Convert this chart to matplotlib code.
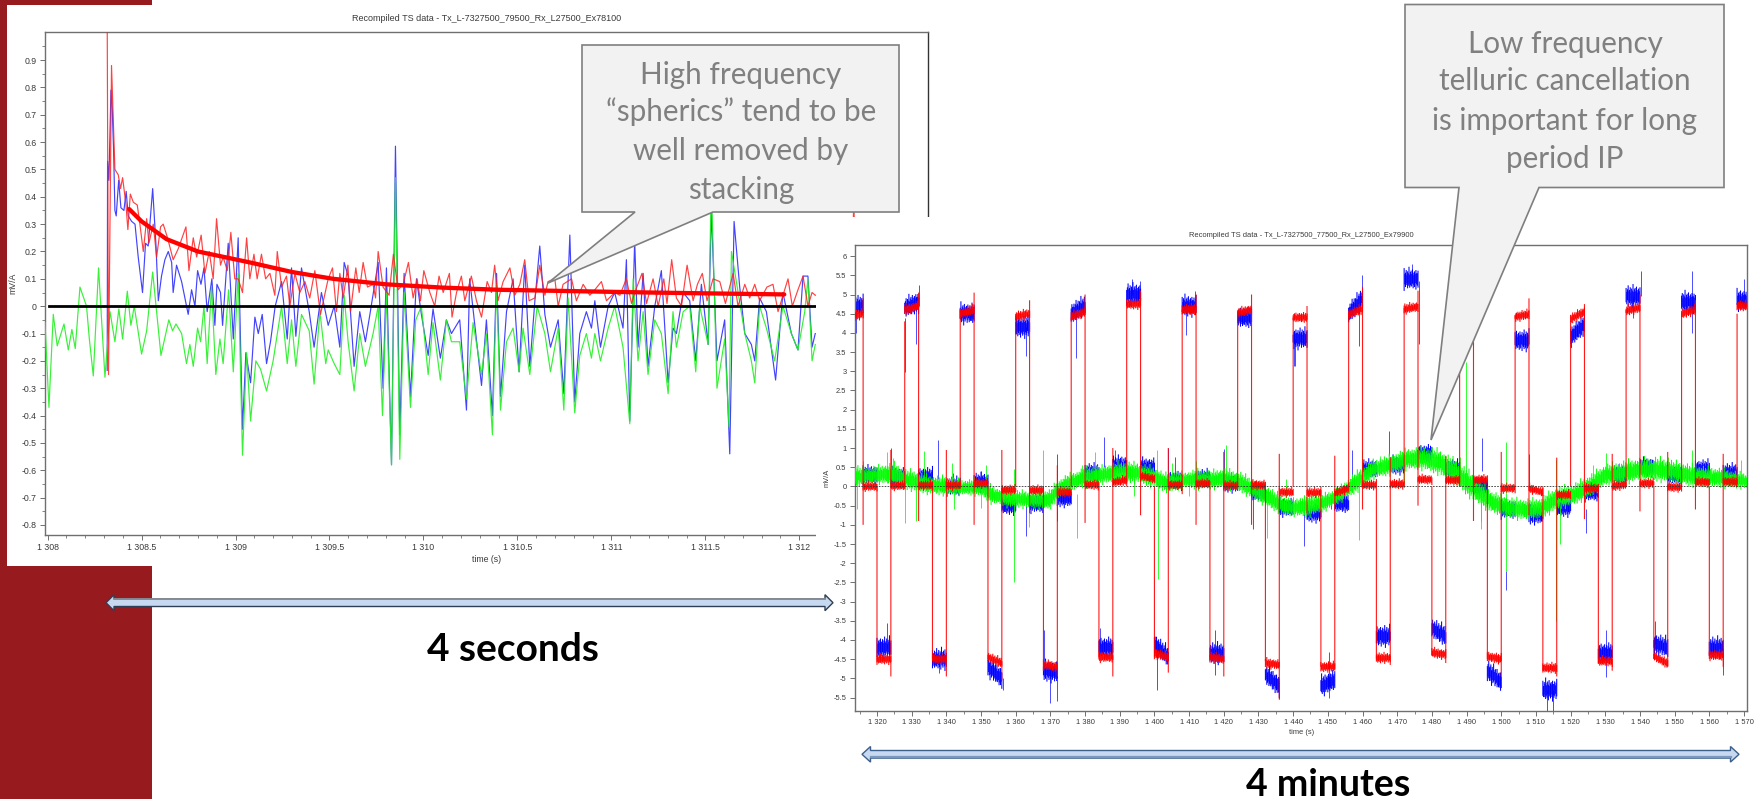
import matplotlib
matplotlib.use("Agg")
import matplotlib.pyplot as plt
import numpy as np
from matplotlib.patches import Polygon, Rectangle

W, H = 1760, 799
BASE = 1308

# ---------- left chart data (seconds after 1308, mV/A) ----------
green_t = [-.014,.007,.03,.051,.087,.11,.129,.147,.172,.207,.222,.243,.271,.305,.332,.358,.379,.399,.424,.443,.461,.5,.527,.559,.603,.645,.665,.683,.713,.739,.757,.775,.798,.814,.832,.849,.872,.895,.917,.934,.963,.988,1.014,1.037,1.059,1.08,1.108,1.133,1.165,1.2,1.245,1.275,1.298,1.321,1.351,1.392,1.418,1.449,1.48,1.493,1.525,1.555,1.578,1.599,1.631,1.661,1.691,1.732,1.759,1.782,1.803,1.83,1.851,1.874,1.897,1.931,1.959,1.989,2.025,2.051,2.09,2.122,2.149,2.193,2.229,2.264,2.309,2.335,
           2.367,2.389,2.41,2.442,2.477,2.509,2.53,2.566,2.605,2.646,2.676,2.717,2.747,2.77,2.805,2.832,2.867,2.894,2.912,2.942,2.983,3.018,3.062,3.098,3.116,3.142,3.169,3.195,3.231,3.266,3.302,3.328,3.346,3.382,3.417,3.449,3.47,3.515,3.532,3.562,3.603,3.626,3.639,3.71,3.745,3.763,3.789,3.825,3.869,3.913,3.958,3.993,4.029,4.046,4.068,4.085]
green_v = [-.06,-.37,-.03,-.145,-.065,-.16,-.085,-.155,.07,.0,-.12,-.255,.14,-.26,-.02,-.13,-.01,-.12,.055,-.07,-.0,-.175,-.09,.125,-.18,-.05,-.09,-.065,-.1,-.21,-.14,-.22,-.08,-.13,-.0,-.21,.07,-.25,-.12,-.21,.06,-.24,.12,-.545,-.17,-.42,-.2,-.23,-.31,-.2,-.0,-.21,-.05,-.22,-.03,-.09,-.285,-.02,-.21,-.16,-.21,-.25,.04,-.13,-.31,-.1,-.22,-.1,.0,-.4,.05,-.58,.47,-.56,.05,-.37,-.05,.0,-.25,-.06,-.27,-.05,-.13,-.13,-.34,-.06,-.25,-.1,
           -.47,.08,-.38,-.13,-.08,-.24,-.08,-.25,.0,-.1,-.24,-.08,-.38,.03,-.39,-.18,-.1,-.19,-.1,-.2,-.08,.0,-.15,-.43,.1,-.2,-.02,-.25,-.05,-.1,-.32,-.02,-.15,-.02,.0,-.24,.0,-.14,.45,-.3,-.12,-.44,.2,-.1,-.2,-.28,.0,-.08,-.2,.0,-.1,-.16,-.02,.1,-.2,-.14]

blue_t = [.317,.319,.326,.337,.344,.351,.358,.365,.378,.39,.406,.418,.429,.447,.465,.482,.505,.521,.535,.559,.576,.589,.606,.624,.642,.66,.668,.686,.713,.748,.766,.784,.798,.816,.832,.849,.874,.89,.901,.92,.931,.961,.988,1.014,1.037,1.055,1.08,1.103,1.121,1.142,1.165,1.186,1.211,1.245,1.275,1.298,1.321,1.351,1.392,1.418,1.457,1.493,1.525,1.555,1.578,1.599,1.631,1.661,1.691,1.715,1.759,1.785,1.803,1.83,1.851,1.874,1.897,1.931,1.963,1.989,2.025,2.051,2.09,2.122,2.149,2.193,2.229,2.246,2.309,2.335,
          2.367,2.389,2.41,2.442,2.477,2.509,2.539,2.566,2.593,2.619,2.646,2.676,2.717,2.747,2.779,2.805,2.832,2.867,2.894,2.912,2.942,2.983,3.018,3.062,3.08,3.098,3.124,3.142,3.169,3.195,3.231,3.266,3.302,3.328,3.346,3.382,3.417,3.449,3.479,3.515,3.532,3.562,3.603,3.63,3.653,3.683,3.71,3.745,3.763,3.789,3.825,3.874,3.913,3.958,3.993,4.02,4.046,4.068,4.085]
blue_v = [-.235,.53,.46,.79,.72,.57,.35,.33,.46,.36,.35,.42,.33,.31,.3,.18,.05,.23,.22,.43,.23,.02,.11,.17,.2,.16,.05,.15,.09,-.03,.06,.0,.13,.08,.14,-.02,.1,-.07,.08,.05,-.07,.23,-.12,.25,-.45,-.17,-.28,-.04,-.1,-.03,-.21,-.13,-.0,.09,-.12,.14,-.11,.14,-.02,-.15,.05,-.07,-.0,-.15,.16,.11,-.22,-.02,-.13,-.03,.16,-.3,.14,-.58,.585,-.47,.12,-.33,.1,-.03,-.18,-.01,-.19,-.05,-.1,-.05,-.38,.1,-.29,-.05,
          -.4,.12,-.33,-.02,.1,-.24,.15,-.22,.02,.22,-.03,-.15,-.05,-.32,.26,-.35,-.1,-.02,-.08,.02,-.15,.0,.05,-.08,.17,-.42,.24,-.15,.12,-.22,.0,.13,-.28,-.08,-.1,.05,.02,-.2,.08,-.14,.35,-.2,-.05,-.54,.31,.07,-.1,-.14,-.2,.03,-.02,-.27,.05,-.1,-.16,.11,.11,-.15,-.1]

red_t = [.317,.324,.34,.358,.376,.388,.399,.417,.427,.44,.456,.477,.491,.509,.527,.539,.562,.58,.601,.615,.638,.668,.695,.736,.752,.775,.793,.817,.837,.86,.881,.899,.92,.934,.956,.975,.996,1.014,1.037,1.059,1.076,1.098,1.115,1.138,1.16,1.183,1.209,1.222,1.245,1.271,1.289,1.316,1.342,1.369,1.395,1.422,1.452,1.493,1.516,1.537,1.555,1.573,1.598,1.612,1.64,1.658,1.679,1.702,1.732,1.745,1.759,1.785,1.817,1.84,1.865,1.892,1.92,1.945,1.966,1.984,2.002,2.034,2.06,2.083,2.105,2.138,2.152,2.176,2.202,2.22,2.255,2.282,2.309,2.339,2.362,2.379,2.397,
         2.424,2.46,2.486,2.513,2.539,2.562,2.593,2.619,2.646,2.663,2.699,2.717,2.743,2.788,2.814,2.85,2.885,2.912,2.947,2.974,3.018,3.045,3.08,3.107,3.13,3.163,3.187,3.222,3.249,3.279,3.296,3.321,3.346,3.373,3.403,3.435,3.458,3.484,3.509,3.541,3.577,3.607,3.648,3.674,3.71,3.736,3.763,3.789,3.828,3.86,3.887,3.94,3.963,3.993,4.02,4.046,4.068,4.085,4.28,4.29,4.3]
red_v = [1.05,-.25,.88,.5,.48,.43,.47,.37,.28,.41,.38,.37,.3,.2,.32,.23,.3,.18,.29,.3,.25,.17,.21,.29,.13,.25,.18,.26,.12,.2,.1,.32,.15,.18,.13,.27,.1,.1,.05,.25,.1,.19,.1,.19,.1,.12,.04,.2,.07,.11,-.0,.12,.05,.09,.03,.13,-.03,.1,.14,-.02,.12,.03,.15,-.02,.14,.05,.16,.07,.08,.03,.2,.07,.04,.19,.06,.08,.16,.03,.1,.02,.13,.05,-.0,.11,.05,.12,-.04,.05,.11,.02,.11,.02,-.04,.09,.05,.15,.02,
         .09,.14,.04,.08,.17,.02,.03,.15,.04,.09,.1,.0,.08,.1,.02,.08,.04,.06,.09,.02,.05,.04,.1,.01,.06,.12,.01,.1,.0,.1,.01,.17,.03,.0,.15,.02,.08,.12,.02,.1,.09,.01,.12,.0,.08,.03,.08,.02,.07,.08,-.02,.1,.0,.06,.11,.0,.05,.04,.05,.4,.05]

fit_t = [.434,.5,.633,.8,1.076,1.3,1.52,1.8,2.1,2.4,2.8,3.2,3.6,3.92]
fit_v = [.355,.31,.245,.2,.16,.125,.1,.08,.068,.06,.055,.05,.046,.043]

left_xticks = [1308, 1308.5, 1309, 1309.5, 1310, 1310.5, 1311, 1311.5, 1312]
left_xlabels = ["1 308", "1 308.5", "1 309", "1 309.5", "1 310", "1 310.5", "1 311", "1 311.5", "1 312"]
left_yticks = [-.8,-.7,-.6,-.5,-.4,-.3,-.2,-.1,0,.1,.2,.3,.4,.5,.6,.7,.8,.9]
left_ylabels = ["-0.8","-0.7","-0.6","-0.5","-0.4","-0.3","-0.2","-0.1","0","0.1","0.2","0.3","0.4","0.5","0.6","0.7","0.8","0.9"]

# ---------- right chart data ----------
plus_start = [1313.7,1328,1344,1360,1376,1392,1408,1424,1440,1456,1472,1488,1504,1520,1536,1552,1568]
plus_end   = [1316,1332,1348,1364,1380,1396,1412,1428,1444,1460,1476,1492,1508,1524,1540,1556,1571]
plus_red0  = [4.45,4.6,4.5,4.42,4.42,4.75,4.6,4.52,4.4,4.48,4.62,4.55,4.42,4.36,4.58,4.5,4.7]
plus_red1  = [4.5,4.7,4.6,4.5,4.55,4.75,4.62,4.6,4.4,4.62,4.68,4.6,4.48,4.55,4.65,4.6,4.7]
plus_blue0 = [4.7,4.65,4.5,4.15,4.5,5.0,4.7,4.4,3.85,4.5,5.4,5.1,3.8,3.9,4.95,4.8,4.85]
plus_blue1 = [4.7,4.8,4.5,4.15,4.7,5.0,4.7,4.4,3.85,4.9,5.4,5.1,3.8,4.2,4.95,4.8,4.85]

minus_start = [1320,1336,1352,1368,1384,1400,1416,1432,1448,1464,1480,1496,1512,1528,1544,1560]
minus_end   = [1324,1340,1356,1372,1388,1404,1420,1436,1452,1468,1484,1500,1516,1532,1548,1564]
minus_red0  = [-4.5,-4.5,-4.45,-4.65,-4.45,-4.35,-4.45,-4.6,-4.7,-4.47,-4.33,-4.43,-4.73,-4.55,-4.42,-4.4]
minus_red1  = [-4.5,-4.5,-4.6,-4.7,-4.45,-4.45,-4.5,-4.65,-4.7,-4.47,-4.38,-4.5,-4.73,-4.55,-4.62,-4.4]
minus_blue0 = [-4.2,-4.5,-4.7,-4.8,-4.2,-4.1,-4.35,-4.9,-5.2,-3.9,-3.7,-4.8,-5.3,-4.35,-4.1,-4.2]
minus_blue1 = [-4.2,-4.5,-5.0,-4.85,-4.2,-4.45,-4.35,-5.2,-5.05,-3.9,-3.9,-5.1,-5.3,-4.35,-4.2,-4.2]

zero_start = [1316,1324,1332,1340,1348,1356,1364,1372,1380,1388,1396,1404,1412,1420,1428,1436,1444,1452,1460,1468,1476,1484,1492,1500,1508,1516,1524,1532,1540,1548,1556,1564]
zero_red0  = [0,.02,.03,.03,.08,-.09,-.1,-.15,.04,.1,.27,.04,.07,.02,.04,-.15,-.16,-.17,.04,.06,.18,.16,.17,-.05,-.05,-.22,-.05,.0,.08,-.02,.11,.12]
zero_red1  = [0,.02,.03,.03,.08,-.09,-.1,-.15,.04,.16,.2,.04,.07,.02,.04,-.15,-.16,-.05,.04,.06,.18,.16,.17,-.05,-.15,-.22,-.05,.05,.08,-.02,.11,.12]
zero_blue  = [.3,.25,.25,.0,.1,-.5,-.45,-.3,.35,.55,.5,.15,.2,.08,-.15,-.55,-.7,-.45,.45,.55,.85,.45,.0,-.6,-.75,-.55,-.15,.3,.5,.3,.45,.35]

edge_t  = [1316,1320,1324,1328,1332,1336,1340,1344,1348,1352,1356,1360,1364,1368,1372,1376,1380,1384,1388,1392,1396,1400,1404,1408,1412,1416,1420,1424,1428,1432,1436,1440,1444,1448,1452,1456,1460,1464,1468,1472,1476,1480,1484,1488,1492,1496,1500,1504,1508,1512,1516,1520,1524,1528,1532,1536,1540,1544,1548,1552,1556,1560,1564,1568]
edge_lo = [-1,-4.65,-4.95,0,-.9,-4.5,-4.95,0,-1,-4.5,-5.05,0,-.7,-4.8,-4.95,0,-.95,-4.45,-4.95,0,-.75,-4.5,-4.85,-.2,-1,-4.45,-4.95,0,-1,-4.55,-5.55,0,-.7,-4.7,-4.75,0,-.6,-4.5,-4.65,0,-.5,-4.4,-4.6,0,-.9,-4.55,-4.95,0,-.75,-4.8,-4.95,0,-.85,-4.6,-4.8,0,-.65,-4.5,-4.7,0,-.6,-4.4,-4.7,0]
edge_hi = [4.9,0,.95,4.3,5.05,0,.95,4.6,5.05,0,.95,4.45,4.85,0,.55,4.4,5,0,1,4.75,5.1,0,1,4.6,5,0,.9,4.55,5,0,.85,4.4,4.7,0,.8,4.5,5.2,0,.75,4.65,5.1,0,.8,4.6,4.9,0,.9,4.45,4.9,0,.75,4.3,4.75,0,.85,4.6,5,0,.9,4.5,4.85,0,.85,4.5]

green_knot_t  = [1313.7,1316,1320,1322,1325,1328,1330,1335,1340,1345,1350,1353,1355,1358,1360,1365,1370,1372,1375,1378,1380,1385,1390,1395,1400,1403,1405,1409,1412,1416,1420,1425,1430,1433,1435,1438,1440,1444,1449,1453.5,1458,1463,1468,1473,1477.5,1482,1487,1492,1497,1501.5,1506,1511,1516,1521,1525.5,1530,1535,1540,1545,1549.6,1554.4,1559,1564,1571]
green_knot_hi = [.5,.42,.48,.5,.55,.38,.36,.22,.2,.12,.14,-.03,-.1,-.12,-.16,-.18,-.15,.1,.25,.35,.44,.48,.58,.55,.44,.28,.32,.32,.38,.35,.4,.3,.04,-.08,-.2,-.35,-.38,-.3,-.25,-.05,.3,.62,.75,.92,.95,.88,.6,.22,-.18,-.35,-.4,-.38,-.1,.0,.22,.5,.58,.66,.68,.6,.5,.45,.4,.28]
green_knot_lo = [.05,.08,.12,.12,.1,-.02,-.05,-.15,-.18,-.18,-.2,-.4,-.42,-.5,-.5,-.52,-.55,-.28,-.15,.0,.02,.12,.16,.15,.02,-.08,-.1,.0,-.02,-.02,.0,-.1,-.35,-.5,-.6,-.72,-.72,-.75,-.6,-.38,-.12,.25,.35,.5,.5,.38,.08,-.3,-.62,-.75,-.82,-.8,-.55,-.42,-.22,.08,.12,.22,.2,.18,.06,.05,.02,-.02]

green_spike_t  = [1316,1322.8,1324.5,1333.5,1341.7,1351.3,1359.5,1368,1379,1383,1391,1400.6,1405,1412,1420.5,1438,1459.8,1465,1476,1488,1489.9,1501.4,1515.9,1526.6,1530.1,1548,1555.1,1569,1314.1,1328.2,1331.3,1342.2,1359.4,1363.8,1377.7,1400.9,1432.5,1459,1494.1,1501.4,1515.9,1516.8,1494.1,1350,1394,1410,1472,1535]
green_spike_lo = [.1,.1,.1,.1,.0,.0,-.2,-.2,.2,.2,.2,.1,.1,.1,.1,-.3,.3,.5,.5,.3,.0,-.4,-.5,.0,.3,.3,.3,.1,-.6,-.95,-.9,-.6,-2.5,-1.05,-1.35,-2.4,-1.35,-1.4,-1.1,-2.2,-3.5,-1.5,-.9,-.55,-.25,-.25,.1,-.05]
green_spike_hi = [.65,.9,.75,.93,.62,.55,.45,.95,.55,.9,.7,.95,.6,.65,1.08,.2,.95,.8,1.0,.78,3.25,1.15,.7,.55,.88,.78,.95,.7,.2,.1,.1,.0,-.3,-.3,-.2,.1,-.4,.0,-.4,-.5,-.5,-.5,-.3,.1,.2,.15,.5,.4]

blue_spike_t  = [1337.7,1324,1385.6,1388.5,1403.9,1406,1420,1372,1363,1371.9,1350,1342,1428.5,1451,1443,1314,1328.15,1331.2,1332,1363,1377.3,1409.1,1411.8,1393.6,1395.9,1440.3,1322.8,1368.3,1369.8,1371.9,1400.6,1384.2,1417.4,1417.4,1356.2,1337.8,1436,1440.5,1459.8,1459.1,1474.2,1476.3,1540.2,1555.1,1555.1,1538.1,1570.1,1450.4,1450.4,1530.1,1530.1,1564,1515,1513.1,1544.3,1467.6,1494.5,1501.4,1524.3,1508,1457]
blue_spike_lo = [.2,.2,.5,.5,.1,.2,.1,-.2,-1.3,-.3,.0,-.05,-.2,-.3,-1.55,4.0,2.97,3.7,4.7,3.4,3.35,3.95,4.6,5.0,5.0,3.15,-4.2,-4.75,-5.65,-5.6,-5.3,-4.2,-4.35,-4.9,-5.3,-4.85,-5.55,3.15,4.8,3.65,5.4,3.7,4.95,4.8,4.0,4.4,4.85,-5.5,-5.0,-4.35,-4.97,-4.9,-5.85,-5.85,-4.1,.8,.4,-2.7,-1.2,.1,.3]
blue_spike_hi = [1.2,1.0,1.3,.95,1.0,.78,.98,.85,-.4,-.9,.4,.35,-1.1,-.6,-.4,4.7,4.4,4.7,5.25,4.15,4.5,4.7,5.08,5.4,5.35,3.85,-3.55,-3.75,-4.8,-4.8,-4.4,-3.7,-3.75,-4.35,-5.0,-4.5,-5.0,3.85,5.5,4.6,5.8,5.35,5.6,5.6,4.8,4.95,5.4,-4.3,-5.2,-3.75,-4.35,-4.2,-5.3,-5.3,-3.5,1.45,1.25,-2.2,-.6,.85,.95]

# trace fuzz: how far each sample pokes out of its band (in band half-widths)
fuzz_up = [.9,1.3,.7,1.1,1.7,.8,1.0,1.4,.6,1.2,.9,1.9,.7,1.1,1.3,.8,1.5,.6,1.0,1.2,.8,1.4,.9]
fuzz_dn = [1.1,.7,1.4,.9,1.2,.6,1.6,.8,1.0,1.3,.7,1.1,1.8,.8,1.2,.9,.6,1.4,1.0,.7,1.3,.9,1.1]

right_xticks = list(range(1320, 1571, 10))
right_xlabels = ["1 %d" % (v - 1000) for v in right_xticks]
right_yticks = [-5.5,-5,-4.5,-4,-3.5,-3,-2.5,-2,-1.5,-1,-.5,0,.5,1,1.5,2,2.5,3,3.5,4,4.5,5,5.5,6]
right_ylabels = ["-5.5","-5","-4.5","-4","-3.5","-3","-2.5","-2","-1.5","-1","-0.5","0","0.5","1","1.5","2","2.5","3","3.5","4","4.5","5","5.5","6"]

callout1_lines = ["High frequency", "\u201cspherics\u201d tend to be", "well removed by", "stacking"]
callout2_lines = ["Low frequency", "telluric cancellation", "is important for long", "period IP"]

# ---------- layout ----------
DARK = "#961a1e"
SANS = "Liberation Sans"
TXT = "#3a3a3a"
AX = "#6f6f6f"
fig = plt.figure(figsize=(W/100, H/100), dpi=100, facecolor="white")

def px_axes(l, t, r, b, z):
    a = fig.add_axes([l/W, 1-b/H, (r-l)/W, (b-t)/H])
    a.set_zorder(z)
    return a

def overlay(z):
    a = fig.add_axes([0, 0, 1, 1])
    a.set_xlim(0, W); a.set_ylim(H, 0); a.axis("off"); a.set_zorder(z)
    a.patch.set_alpha(0)
    return a

bg = overlay(0)
bg.add_patch(Rectangle((0, 0), 152, H, fc=DARK, ec="none"))
bg.add_patch(Rectangle((7, 5), 930, 561, fc="white", ec="none"))

def style(a, tick=5.5, size=6.3):
    for s in a.spines.values():
        s.set_color(AX); s.set_linewidth(1.0)
    a.tick_params(which="major", axis="both", length=3.6*tick/5.5, width=.7, color=AX, labelsize=size, labelcolor=TXT, pad=2.5)
    a.tick_params(which="minor", axis="both", length=2.0, width=.6, color=AX)
    for l in a.get_xticklabels() + a.get_yticklabels():
        l.set_family(SANS)

# left chart
ax1 = px_axes(45, 32, 928, 534.7, 1)
ax1.set_xlim(1307.986, 1312.685)
ax1.set_ylim(-.8355, 1.0025)
T1 = lambda s: [BASE + v for v in s]
LW = .85
ax1.plot(T1(blue_t), blue_v, color="#2222ff", lw=LW, alpha=.85, zorder=2)
ax1.plot(T1(green_t), green_v, color="#22f022", lw=LW, alpha=.9, zorder=3)
ax1.plot(T1(red_t), red_v, color="#ff2020", lw=LW, alpha=.85, zorder=4)
ax1.plot(T1(fit_t), fit_v, color="#ff0000", lw=3.1, solid_capstyle="round", zorder=6)
ax1.plot([1308.007, 1312.1], [0, 0], color="black", lw=2.0, zorder=5)
ax1.set_xticks(left_xticks); ax1.set_xticklabels(left_xlabels)
ax1.set_xticks([1308 + i/10 for i in range(0, 47) if i % 5], minor=True)
ax1.set_yticks(left_yticks); ax1.set_yticklabels(left_ylabels)
ax1.set_yticks([-.75,-.65,-.55,-.45,-.35,-.25,-.15,-.05,.05,.15,.25,.35,.45,.55,.65,.75,.85,.95], minor=True)
style(ax1)
ax1.spines["right"].set_color("#333333")
ax1.set_title("Recompiled TS data - Tx_L-7327500_79500_Rx_L27500_Ex78100", fontsize=6.45, family=SANS, color=TXT, pad=8)
ax1.set_xlabel("time (s)", fontsize=6.3, family=SANS, color=TXT, labelpad=2)
ax1.set_ylabel("mV/A", fontsize=6.3, family=SANS, color=TXT, labelpad=3)

# white panel behind the right chart
mid = overlay(2)
mid.add_patch(Rectangle((816, 217), 944, 582, fc="white", ec="none"))

# right chart
ax2 = px_axes(855, 245, 1747.3, 711, 3)
ax2.set_xlim(1313.66, 1570.95)
ax2.set_ylim(-5.85, 6.29)
BLUE, RED, GREEN = "#0000ff", "#ff0000", "#00ff00"
STEP = .2

def fuzzy(ax, t0, t1, lev0, lev1, half, color, z, shift=0):
    ts, lo, hi = [], [], []
    n = int((t1 - t0) / STEP) + 1
    for i in range(n):
        f = i / max(n - 1, 1)
        c = lev0 + (lev1 - lev0) * f
        ts.append(t0 + f * (t1 - t0))
        hi.append(c + half * fuzz_up[(i + shift) % len(fuzz_up)])
        lo.append(c - half * fuzz_dn[(i + shift * 3) % len(fuzz_dn)])
    v = ax.vlines(ts, lo, hi, color=color, lw=.75, zorder=z)
    v.set_snap(False)

ax2.vlines(blue_spike_t, blue_spike_lo, blue_spike_hi, color=BLUE, lw=.7, alpha=.7, zorder=2)
k = 0
for s, e, a, b in zip(plus_start, plus_end, plus_blue0, plus_blue1):
    fuzzy(ax2, s, e, a, b, .17, BLUE, 2, k); k += 5
for s, e, a, b in zip(minus_start, minus_end, minus_blue0, minus_blue1):
    fuzzy(ax2, s, e, a, b, .17, BLUE, 2, k); k += 5
for s, a in zip(zero_start, zero_blue):
    fuzzy(ax2, s, s + 4, a, a, .15, BLUE, 2, k); k += 5

gt, gl, gh = [], [], []
n = int((green_knot_t[-1] - green_knot_t[0]) / STEP)
for i in range(n):
    tt = green_knot_t[0] + i * STEP
    up = np.interp(tt, green_knot_t, green_knot_hi)
    dn = np.interp(tt, green_knot_t, green_knot_lo)
    c, h = (up + dn) / 2, (up - dn) / 2 * .82
    gt.append(tt)
    gh.append(c + h * fuzz_up[i % len(fuzz_up)])
    gl.append(c - h * fuzz_dn[i % len(fuzz_dn)])
gv = ax2.vlines(gt, gl, gh, color=GREEN, lw=.75, zorder=3)
gv.set_snap(False)
ax2.vlines(green_spike_t, green_spike_lo, green_spike_hi, color=GREEN, lw=.7, alpha=.8, zorder=3)
v = ax2.vlines(edge_t, edge_lo, edge_hi, color=RED, lw=.8, alpha=.9, zorder=4)
v.set_snap(False)
k = 2
for s, e, a, b in zip(plus_start, plus_end, plus_red0, plus_red1):
    fuzzy(ax2, s, e, a, b, .085, RED, 5, k); k += 7
for s, e, a, b in zip(minus_start, minus_end, minus_red0, minus_red1):
    fuzzy(ax2, s, e, a, b, .085, RED, 5, k); k += 7
for s, a, b in zip(zero_start, zero_red0, zero_red1):
    fuzzy(ax2, s, s + 4, a, b, .08, RED, 5, k); k += 7
ax2.axhline(0, color="#333333", lw=.6, ls=(0, (2, 1.5)), zorder=6)
ax2.set_xticks(right_xticks); ax2.set_xticklabels(right_xlabels)
ax2.set_xticks([v + 5 for v in right_xticks[:-1]] + [1315], minor=True)
ax2.set_yticks(right_yticks); ax2.set_yticklabels(right_ylabels)
style(ax2, size=5.4)
ax2.set_title("Recompiled TS data - Tx_L-7327500_77500_Rx_L27500_Ex79900", fontsize=5.4, family=SANS, color=TXT, pad=6)
ax2.set_xlabel("time (s)", fontsize=5.4, family=SANS, color=TXT, labelpad=2)
ax2.set_ylabel("mV/A", fontsize=5.4, family=SANS, color=TXT, labelpad=2)

# callouts, arrows, captions
top = overlay(4)
FACE, EDGE, CT = "#f2f2f2", "#7f7f7f", "#808080"
top.add_patch(Polygon([(582, 45), (899, 45), (899, 212), (713, 212), (548, 283), (635, 212), (582, 212)],
                      closed=True, fc=FACE, ec=EDGE, lw=1.2))
top.add_patch(Polygon([(1405, 4.5), (1724, 4.5), (1724, 187.5), (1539, 187.5), (1431, 440), (1459, 187.5), (1405, 187.5)],
                      closed=True, fc=FACE, ec=EDGE, lw=1.2))
for y, s in zip([75, 112, 151, 190], callout1_lines):
    top.text(741, y, s, ha="center", va="center", fontsize=21.3, family="Lato", color=CT)
for y, s in zip([43.5, 80.6, 121, 159], callout2_lines):
    top.text(1565, y, s, ha="center", va="center", fontsize=21.3, family="Lato", color=CT)

def dbl_arrow(x0, x1, yc, head, sh, hh, ec, fc, lw):
    pts = [(x0, yc), (x0+head, yc-hh), (x0+head, yc-sh), (x1-head, yc-sh), (x1-head, yc-hh), (x1, yc),
           (x1-head, yc+hh), (x1-head, yc+sh), (x0+head, yc+sh), (x0+head, yc+hh)]
    top.add_patch(Polygon(pts, closed=True, fc=fc, ec=ec, lw=lw))

dbl_arrow(106, 833, 602.7, 8, 3.8, 8, "#2f3f55", "#c6d9f0", 1.0)
top.plot([114, 825], [599, 599], color="#8a8f96", lw=1.3)
dbl_arrow(862, 1739, 754.3, 8.5, 3.8, 7.8, "#3c5f8c", "#c6d9f0", 1.0)
top.plot([870.5, 1730.5], [757.3, 757.3], color="#7c97bd", lw=1.6)
top.text(513, 661, "4 seconds", ha="center", va="baseline", fontsize=28, fontweight="bold", family="Lato", color="black")
top.text(1328, 795.5, "4 minutes", ha="center", va="baseline", fontsize=27, fontweight="bold", family="Lato", color="black")

fig.savefig("out.png", dpi=100, facecolor="white")
